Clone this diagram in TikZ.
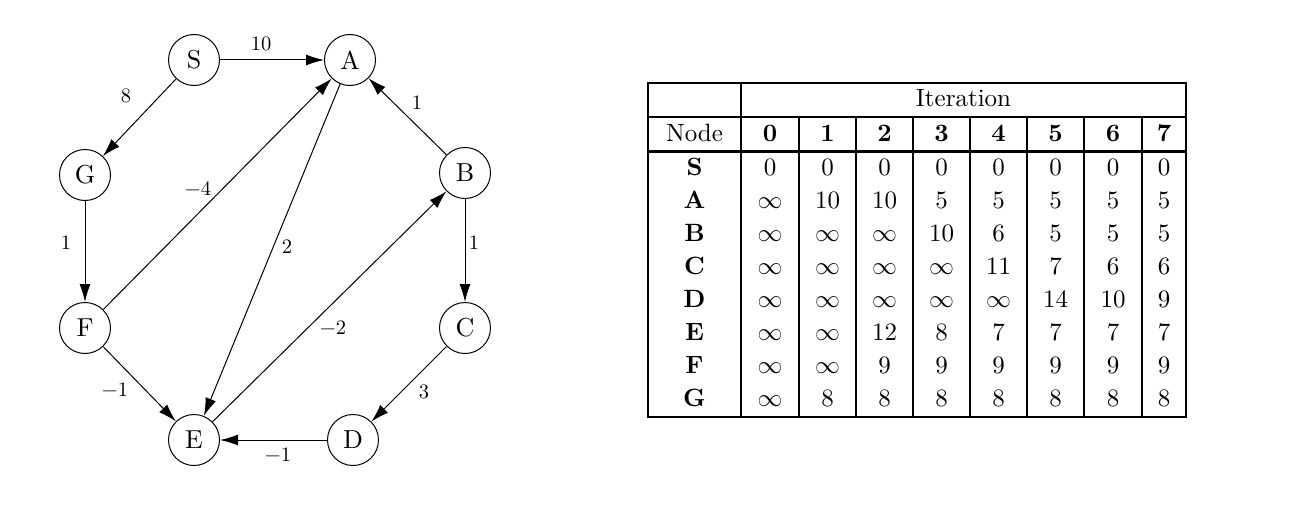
\documentclass[tikz,border=0pt]{standalone}
\usepackage{fontspec}
\setmainfont{lmroman10-regular.otf}[BoldFont=lmroman10-bold.otf]
\usetikzlibrary{arrows.meta}
\begin{document}
\begin{tikzpicture}[x=1pt,y=-1pt,
  vtx/.style={circle,draw,line width=1pt,minimum size=51pt,inner sep=0pt,font=\fontsize{26}{30}\selectfont},
  edge/.style={line width=1pt,-{Latex[length=18pt,width=11pt]}},
  lbl/.style={font=\fontsize{20.5}{24}\selectfont,inner sep=0pt},
  cell/.style={font=\fontsize{25}{30}\selectfont,inner sep=0pt,anchor=base},
  bcell/.style={cell,font=\fontsize{25}{30}\selectfont\bfseries},
  rule/.style={line width=2.8pt},
  thickrule/.style={line width=3.8pt}
]
\useasboundingbox (0,0) rectangle (1292,511);
% ---------- graph ----------
\node[vtx] (S) at (194,60) {S};
\node[vtx] (A) at (350,60) {A};
\node[vtx] (G) at (85,175) {G};
\node[vtx] (B) at (465,173) {B};
\node[vtx] (F) at (85,328) {F};
\node[vtx] (C) at (465,328) {C};
\node[vtx] (E) at (194,440) {E};
\node[vtx] (D) at (353,440) {D};

\draw[edge] (S) -- (A);
\draw[edge] (S) -- (G);
\draw[edge] (G) -- (F);
\draw[edge] (F) -- (A);
\draw[edge] (F) -- (E);
\draw[edge] (A) -- (E);
\draw[edge] (E) -- (B);
\draw[edge] (B) -- (A);
\draw[edge] (B) -- (C);
\draw[edge] (C) -- (D);
\draw[edge] (D) -- (E);

\node[lbl] (lSA) at (261,44) {10};
\node[lbl] (lSG) at (126,96) {8};
\node[lbl] (lFA) at (198,189) {−4};
\node[lbl] (lAE) at (287,247) {2};
\node[lbl] (lBA) at (417,103) {1};
\node[lbl] (lGF) at (66,243) {1};
\node[lbl] (lBC) at (474,243) {1};
\node[lbl] (lEB) at (333,328) {−2};
\node[lbl] (lCD) at (424,392) {3};
\node[lbl] (lFE) at (115,390) {−1};
\node[lbl] (lDE) at (278,455) {−1};

% ---------- table ----------
\draw[rule] (648,83) rectangle (1186,417);
\draw[rule] (741,83) -- (741,417);
\draw[rule] (741,117) -- (1186,117);
\draw[rule] (648,117) -- (741,117);
\draw[thickrule] (646.6,151.5) -- (1187.4,151.5);
\foreach \x in {799,856,913,970,1027,1084,1142}
  \draw[rule] (\x,117) -- (\x,417);

\node[cell] (iter) at (963.5,106) {Iteration};
\node[cell] (nodeh) at (694.5,141) {Node};
\foreach \c/\x in {0/770,1/827.5,2/884.5,3/941.5,4/998.5,5/1055.5,6/1113,7/1164}
  \node[bcell] (h\c) at (\x,141) {\c};

\def\rowdata{
  S/0/{0,0,0,0,0,0,0,0},
  A/1/{$\infty$,10,10,5,5,5,5,5},
  B/2/{$\infty$,$\infty$,$\infty$,10,6,5,5,5},
  C/3/{$\infty$,$\infty$,$\infty$,$\infty$,11,7,6,6},
  D/4/{$\infty$,$\infty$,$\infty$,$\infty$,$\infty$,14,10,9},
  E/5/{$\infty$,$\infty$,12,8,7,7,7,7},
  F/6/{$\infty$,$\infty$,9,9,9,9,9,9},
  G/7/{$\infty$,8,8,8,8,8,8,8}}
\foreach \r/\i/\vals in \rowdata {
  \pgfmathsetmacro{\yb}{175+33.1*\i}
  \node[bcell] (r\r) at (694.5,\yb) {\r};
  \foreach \v [count=\k from 0] in \vals {
    \pgfmathsetmacro{\xc}{{770,827.5,884.5,941.5,998.5,1055.5,1113,1164}[\k]}
    \node[cell] (c\r\k) at (\xc,\yb) {\v};
  }
}
\end{tikzpicture}
\end{document}
